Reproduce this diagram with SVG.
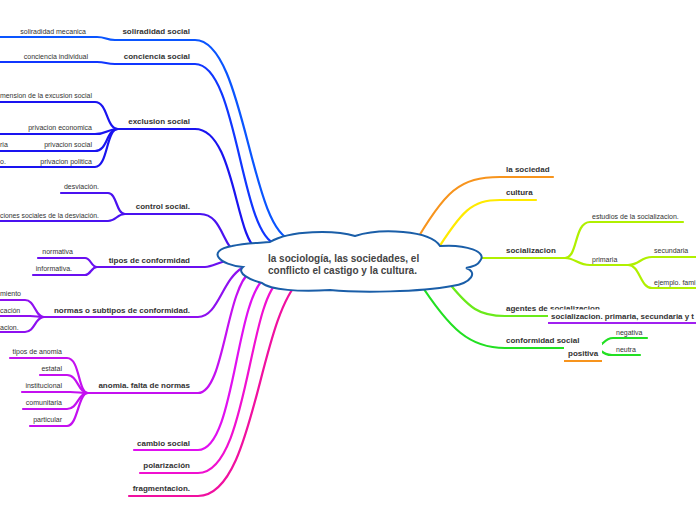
<svg xmlns="http://www.w3.org/2000/svg" width="696" height="520" viewBox="0 0 696 520">
<style>
.c{fill:none;stroke-width:2.2;stroke-linecap:round}
.m{font-family:"Liberation Sans",Arial,sans-serif;font-size:8px;font-weight:bold;fill:#333}
.s{font-family:"Liberation Sans",Arial,sans-serif;font-size:7px;fill:#333}
.e{text-anchor:end}
.ctr{font-family:"Liberation Sans",Arial,sans-serif;font-size:10px;font-weight:bold;fill:#444}
</style>
<rect width="696" height="520" fill="#fff"/>
<g id="connectors">
<path class="c" stroke="#0a55ff" d="M0,37 H97 C106,37 106,40 115,40 H195 C245,40 250,232 292,240"/>
<path class="c" stroke="#1036ff" d="M0,62 H97 C106,62 106,64 115,64 H195 C238,64 240,235 276,244"/>
<g stroke="#1a14f0" class="c">
<path d="M0,102 H95 C108,102 106,129 118,129"/>
<path d="M0,134 H95 C108,134 106,129 118,129"/>
<path d="M0,151 H95 C108,151 106,129 118,129"/>
<path d="M0,167 H95 C108,167 106,129 118,129"/>
<path d="M118,129 H195 C235,129 235,240 258,250"/>
</g>
<g stroke="#4a12f0" class="c">
<path d="M61,193 H108 C117,193 116,214 125,214"/>
<path d="M0,221 H108 C116,221 117,214 125,214"/>
<path d="M125,214 H200 C222,214 222,245 238,256"/>
</g>
<g stroke="#6a10f0" class="c">
<path d="M38,258 H85 C91,258 91,267 97,267"/>
<path d="M33,275 H85 C91,275 91,267 97,267"/>
<path d="M97,267 H205 C213,267 218,262 230,260"/>
</g>
<g stroke="#8e10f0" class="c">
<path d="M0,300 H25 C35,300 35,317 44,317"/>
<path d="M0,316 H30 C37,316 37,317 44,317"/>
<path d="M0,332 H25 C35,332 35,317 44,317"/>
<path d="M44,317 H198 C218,317 222,280 242,268"/>
</g>
<g stroke="#c410f0" class="c">
<path d="M10,358 H67 C80,358 78,393 88,393"/>
<path d="M40,375 H67 C78,375 78,393 88,393"/>
<path d="M22,392 H70 C78,392 80,393 88,393"/>
<path d="M23,409 H67 C78,409 78,393 88,393"/>
<path d="M30,426 H67 C78,426 78,393 88,393"/>
<path d="M88,393 H198 C224,393 226,290 250,272"/>
</g>
<path class="c" stroke="#e010f0" d="M134,450 H198 C235,450 235,300 265,278"/>
<path class="c" stroke="#f010d0" d="M140,473 H198 C248,473 248,300 280,280"/>
<path class="c" stroke="#f010a0" d="M129,496 H198 C255,496 258,320 300,280"/>
<path class="c" stroke="#f7941d" d="M412,248 C445,190 460,177 500,177 H553"/>
<path class="c" stroke="#ffea00" d="M434,255 C462,210 472,200 500,200 H536"/>
<g stroke="#b0f000" class="c">
<path d="M470,258 H565"/>
<path d="M565,258 C578,258 574,222 590,222 H683"/>
<path d="M565,258 C575,258 578,265 590,265 H628"/>
<path d="M628,265 C640,265 640,257 652,257 H696"/>
<path d="M628,265 C640,265 640,288 652,288 H696"/>
</g>
<path class="c" stroke="#6aea1a" d="M445,278 C470,310 480,316 505,316 H550"/>
<g stroke="#22e022" class="c">
<path d="M418,280 C450,330 470,348 505,348 H595"/>
<path d="M593,348 C603,348 603,338 613,338 H647"/>
<path d="M598,349 C604,353 606,355 612,355 H640"/>
</g>
</g>
<g id="center">
<path d="M270,242 C290,230 335,230 355,236 C380,228 430,230 440,246 C466,244 488,252 480,261 C478,265 472,267 466,268 C478,272 472,283 452,286 C420,292 360,293 330,290 C300,292 270,290 262,283 C250,280 236,273 243,267 C220,265 205,251 232,246 C245,243 258,243 270,242 Z" fill="#fff" stroke="#1a5ea8" stroke-width="2"/>
<text class="ctr" x="268" y="262">la sociología, las sociedades, el</text>
<text class="ctr" x="268" y="274">conflicto el castigo y la cultura.</text>
</g>
<g id="n-soliradidad"><text class="m e" x="190" y="34">soliradidad social</text><text class="s e" x="86" y="34">soliradidad mecanica</text></g>
<g id="n-conciencia"><text class="m e" x="190" y="59">conciencia social</text><text class="s e" x="88" y="59">conciencia individual</text></g>
<g id="n-exclusion"><text class="m e" x="190" y="124">exclusion social</text>
<text class="s" x="0" y="98" textLength="92" lengthAdjust="spacingAndGlyphs">mension de la excusion social</text>
<text class="s e" x="92" y="130">privacion economica</text>
<text class="s" x="0" y="147">ria</text>
<text class="s e" x="92" y="147">privacion social</text>
<text class="s" x="0" y="164">o.</text>
<text class="s e" x="92" y="164">privacion politica</text></g>
<g id="n-control"><text class="m e" x="190" y="209">control social.</text>
<text class="s e" x="99" y="189">desviación.</text>
<text class="s" x="0" y="218" textLength="99" lengthAdjust="spacingAndGlyphs">ciones sociales de la desviación.</text></g>
<g id="n-tipos"><text class="m e" x="190" y="263">tipos de conformidad</text>
<text class="s e" x="73" y="254">normativa</text>
<text class="s e" x="72" y="271">informativa.</text></g>
<g id="n-normas"><text class="m e" x="190" y="313">normas o subtipos de conformidad.</text>
<text class="s" x="0" y="296">miento</text>
<text class="s" x="0" y="313">cación</text>
<text class="s" x="0" y="330">acion.</text></g>
<g id="n-anomia"><text class="m e" x="190" y="388">anomia. falta de normas</text>
<text class="s e" x="62" y="354">tipos de anomia</text>
<text class="s e" x="62" y="371">estatal</text>
<text class="s e" x="62" y="388">institucional</text>
<text class="s e" x="62" y="405">comunitaria</text>
<text class="s e" x="62" y="422">particular</text></g>
<g id="n-cambio"><text class="m e" x="190" y="446">cambio social</text></g>
<g id="n-polarizacion"><text class="m e" x="190" y="468">polarización</text></g>
<g id="n-fragmentacion"><text class="m e" x="190" y="491">fragmentacion.</text></g>
<g id="n-sociedad"><text class="m" x="506" y="172">la sociedad</text></g>
<g id="n-cultura"><text class="m" x="506" y="195">cultura</text></g>
<g id="n-socializacion"><text class="m" x="506" y="253">socializacion</text>
<text class="s" x="592" y="219">estudios de la socializacion.</text>
<text class="s" x="592" y="262">primaria</text>
<text class="s" x="654" y="253">secundaria</text>
<text class="s" x="654" y="285">ejemplo. fami</text></g>
<g id="n-agentes"><text class="m" x="506" y="311">agentes de socializacion</text></g>
<g id="n-socprim"><rect x="548" y="309.5" width="148" height="12.5" fill="#fff"/>
<path d="M548,323 H696" stroke="#a020f0" stroke-width="2.2" fill="none"/>
<text class="m" x="551" y="319" textLength="143" lengthAdjust="spacingAndGlyphs">socializacion. primaria, secundaria y t</text></g>
<g id="n-conformidad"><text class="m" x="506" y="343">conformidad social</text>
<text class="s" x="616" y="335">negativa</text>
<text class="s" x="616" y="352">neutra</text></g>
<g id="n-positiva"><rect x="564" y="343" width="38" height="17" fill="#fff"/>
<path d="M564,361 H602" stroke="#f7941d" stroke-width="2.2" fill="none"/>
<text class="m" x="568" y="356">positiva</text></g>
</svg>
